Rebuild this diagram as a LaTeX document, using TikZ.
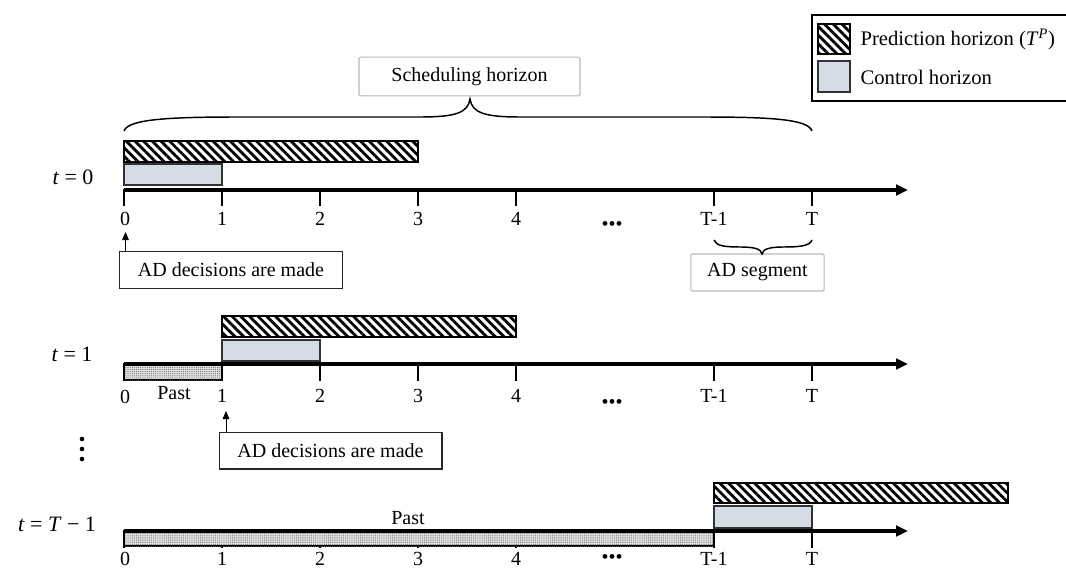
\documentclass[tikz,border=0pt]{standalone}
\usepackage{fontspec}
\setmainfont{Liberation Serif}
\usetikzlibrary{patterns.meta,arrows.meta}
\definecolor{ctrl}{HTML}{D6DCE5}
\tikzset{
  hatchbar/.style={draw=black,line width=0.8pt,pattern={Lines[angle=-45,distance=4.6pt,line width=2.1pt]}},
  ctrlbar/.style={draw=black!80,line width=0.9pt,fill=ctrl},
  pastbar/.style={draw=black,line width=0.9pt,fill=gray!22,postaction={pattern={Dots[distance=1.6pt,radius=0.45pt]},pattern color=black!60}},
  axisline/.style={line width=2.3pt,-{Triangle[length=9pt,width=8pt]}},
  tickline/.style={line width=2.2pt},
  lab/.style={inner sep=1pt,font=\fontsize{15}{18}\selectfont},
  tlab/.style={inner sep=1pt,font=\fontsize{16.5}{19}\selectfont},
  dotlab/.style={inner sep=0pt,anchor=base,font=\fontsize{15}{18}\selectfont},
  adbox/.style={draw=black!85,line width=1pt,minimum width=167pt,minimum height=27.5pt,inner sep=2pt,font=\fontsize{15}{18}\selectfont},
  lightbox/.style={draw=gray!55,line width=0.8pt,rounded corners=1pt,inner sep=2pt,font=\fontsize{15}{18}\selectfont},
  upar/.style={line width=0.6pt,-{Triangle[length=6pt,width=5pt]}},
  bracepath/.style={line width=1.1pt},
}
\begin{document}
\begin{tikzpicture}[x=0.75pt,y=-0.75pt]
\useasboundingbox (0,0) rectangle (1066,570);

% ---------- Legend ----------
\draw[line width=1.3pt] (1070,15) -- (812,15) -- (812,101) -- (1070,101);
\path[hatchbar,line width=1.2pt] (818,24) rectangle (850,54);
\path[ctrlbar,line width=1.2pt] (818,61) rectangle (850,92);
\node[lab,anchor=west,font=\fontsize{15.5}{18}\selectfont] (legP) at (859,39) {Prediction horizon (\textit{T}\textsuperscript{\textit{P}})};
\node[lab,anchor=west,font=\fontsize{15.5}{18}\selectfont] (legC) at (859,77) {Control horizon};

% ---------- Scheduling horizon ----------
\node[lightbox,minimum width=165.75pt,minimum height=29pt] (sched) at (469.5,76.5) {Scheduling horizon};
\coordinate (btip) at (470,99);
\draw[bracepath] (124,131) .. controls (128,119) and (170,117) .. (240,117) -- (420,117)
  .. controls (455,117) and (468,113) .. (btip)
  .. controls (472,113) and (485,117) .. (520,117) -- (700,117)
  .. controls (770,117) and (808,119) .. (812,131);

% ---------- t = 0 ----------
\node[tlab] (t0) at (73,177) {\textit{t} = 0};
\path[hatchbar] (124,141) rectangle (418,162);
\path[ctrlbar] (124,164) rectangle (222,185);
\coordinate (s0) at (124,190);
\coordinate (e0) at (908,190);
\draw[axisline] (s0) -- (e0);
\foreach \x in {124,222,320,418,516,714,812} \draw[tickline] (\x,189) -- (\x,206);
\node[lab] (a00) at (125,219) {0};
\node[lab] (a01) at (222,219) {1};
\node[lab] (a02) at (320,219) {2};
\node[lab] (a03) at (418,219) {3};
\node[lab] (a04) at (516,219) {4};
\node[dotlab] (a0d) at (612,230) {•••};
\node[lab] (a0T1) at (714,219) {T-1};
\node[lab] (a0T) at (812,219) {T};

\node[adbox] (ad0) at (231,270) {AD decisions are made};
\coordinate (ar0) at (125.5,232);
\draw[upar] (ad0.north -| ar0) -- (ar0);

\node[lightbox,minimum width=100pt,minimum height=27.75pt] (seg) at (757.5,272.5) {AD segment};
\coordinate (stip) at (762,254);
\draw[bracepath] (714,240) .. controls (716,246) and (725,247) .. (740,247)
  .. controls (755,247) and (761,249) .. (stip)
  .. controls (763,249) and (769,247) .. (784,247)
  .. controls (799,247) and (810,246) .. (812,240);

% ---------- t = 1 ----------
\node[tlab] (t1) at (72,354) {\textit{t} = 1};
\path[hatchbar] (222,316) rectangle (516,337);
\path[ctrlbar] (222,340) rectangle (320,361);
\path[pastbar] (124,364) rectangle (222,380);
\coordinate (s1) at (124,364);
\coordinate (e1) at (908,364);
\draw[axisline] (s1) -- (e1);
\foreach \x in {124,222,320,418,516,714,812} \draw[tickline] (\x,363) -- (\x,381);
\node[lab] (a10) at (125,397) {0};
\node[lab] (a1p) at (174,393) {Past};
\node[lab] (a11) at (222,396) {1};
\node[lab] (a12) at (320,396) {2};
\node[lab] (a13) at (418,396) {3};
\node[lab] (a14) at (516,396) {4};
\node[dotlab] (a1d) at (612,408) {•••};
\node[lab] (a1T1) at (714,396) {T-1};
\node[lab] (a1T) at (812,396) {T};

\node[adbox] (ad1) at (330.5,450.5) {AD decisions are made};
\coordinate (ar1) at (226,411);
\draw[upar] (ad1.north -| ar1) -- (ar1);

% vertical dots
\foreach \y in {439,449,459} \fill (82,\y) circle (2.3);

% ---------- t = T-1 ----------
\node[tlab] (tT) at (57,524) {\textit{t} = \textit{T} − 1};
\foreach \x in {124,222,320,418,516,714,812} \draw[tickline] (\x,531) -- (\x,548);
\path[pastbar] (124,531) rectangle (714,546);
\draw[tickline] (124,531) -- (124,548);
\draw[tickline] (714,531) -- (714,548);
\path[hatchbar] (714,483) rectangle (1008,503);
\path[ctrlbar] (714,506) rectangle (812,528);
\coordinate (s2) at (124,531);
\coordinate (e2) at (908,531);
\draw[axisline] (s2) -- (e2);
\node[lab] (a2p) at (408,518) {Past};
\node[lab] (a20) at (125,559) {0};
\node[lab] (a21) at (222,559) {1};
\node[lab] (a22) at (320,559) {2};
\node[lab] (a23) at (418,559) {3};
\node[lab] (a24) at (516,559) {4};
\node[dotlab] (a2d) at (612,563) {•••};
\node[lab] (a2T1) at (714,559) {T-1};
\node[lab] (a2T) at (812,559) {T};
\end{tikzpicture}
\end{document}
